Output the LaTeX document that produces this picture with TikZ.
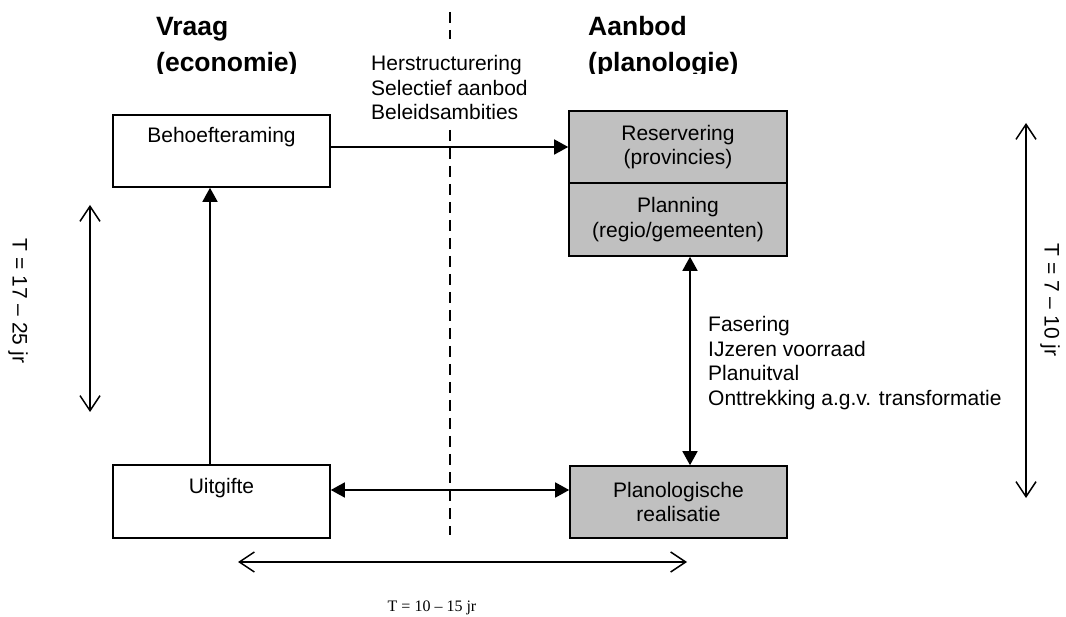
\documentclass[tikz,border=0pt]{standalone}
\usepackage{fontspec}
\setmainfont{Liberation Sans}
\newfontfamily\serifT{Liberation Serif}
\usetikzlibrary{arrows.meta}
\definecolor{boxgray}{HTML}{C0C0C0}
\tikzset{
  txt/.style={font=\fontsize{21}{24.6}\selectfont, inner sep=0pt},
  head/.style={font=\bfseries\fontsize{26.5}{36}\selectfont, inner sep=0pt},
  box/.style={draw, line width=1.6pt, minimum width=217pt, inner sep=0pt, align=center, font=\fontsize{21}{24.6}\selectfont},
  gbox/.style={box, fill=boxgray},
  conn/.style={line width=1.6pt},
  filled/.style={conn, -{Triangle[length=14pt,width=15pt]}},
  filledboth/.style={conn, {Triangle[length=14pt,width=15pt]}-{Triangle[length=14pt,width=15pt]}},
  dimarrow/.style={line width=1.5pt, {Straight Barb[length=15pt,width=20pt]}-{Straight Barb[length=15pt,width=20pt]}},
  divider/.style={line width=1.3pt, dash pattern=on 11pt off 7pt}
}
\begin{document}
\begin{tikzpicture}[x=1pt,y=-1pt]
\useasboundingbox (0,0) rectangle (1066,617);

% headings (clipped at the bottom as in the reference)
\begin{scope}
  \clip (0,0) rectangle (1066,74);
  \node[head, anchor=base west] (vraag) at (156,36) {Vraag};
  \node[head, anchor=base west] (econ) at (156,72) {(economie)};
  \node[head, anchor=base west] (aanbod) at (588,36) {Aanbod};
  \node[head, anchor=base west] (plano) at (588,72) {(planologie)};
\end{scope}

% dashed divider
\coordinate (d1) at (450,12);
\coordinate (d2) at (450,39);
\coordinate (d3) at (450,130);
\coordinate (d4) at (450,535);
\draw[divider] (d1) -- (d2);
\draw[divider] (d3) -- (d4);

% boxes
\node[box, minimum height=72pt,
      label={[txt, anchor=center, yshift=-23pt]north:Behoefteraming}] (beh) at (221.5,151) {};
\node[box, minimum height=73pt,
      label={[txt, anchor=center, yshift=-24pt]north:Uitgifte}] (uit) at (221.5,501.5) {};
\node[gbox, minimum width=218pt, minimum height=72pt] (res) at (678,147) {Reservering\\(provincies)};
\node[gbox, minimum width=218pt, minimum height=73pt] (pl) at (678,219.5) {Planning\\(regio/gemeenten)};
\node[gbox, minimum height=72pt] (pr) at (678.5,502) {Planologische\\realisatie};

% connectors
\draw[filled] (beh.east |- res.west) -- (res.west);
\draw[filled] ([xshift=-11.5pt]uit.north) -- ([xshift=-11.5pt]beh.south);
\draw[filledboth] ([yshift=11.5pt]uit.east) -- ([yshift=12pt]pr.west);
\draw[filledboth] ([xshift=12pt]pl.south) -- ([xshift=11.5pt]pr.north);

% side texts
\node[txt, anchor=west, align=left] (mid) at (371,87.5) {Herstructurering\\Selectief aanbod\\Beleidsambities};
\node[txt, anchor=west, align=left] (fas) at (708,363) {Fasering\\IJzeren voorraad\\Planuitval\\Onttrekking a.g.v. transformatie};

% time spans
\coordinate (la) at (90,205);
\coordinate (lb) at (90,412);
\draw[dimarrow] (la) -- (lb);
\node[txt, rotate=-90] (lt) at (18,301) {T = 17 – 25 jr};

\coordinate (ra) at (1026,123);
\coordinate (rb) at (1026,498);
\draw[dimarrow] (ra) -- (rb);
\node[txt, rotate=-90] (rt) at (1050,300) {T = 7 – 10 jr};

\coordinate (ba) at (238,562);
\coordinate (bb) at (687,562);
\draw[dimarrow] (ba) -- (bb);
\node[font=\serifT\fontsize{16}{19}\selectfont, inner sep=0pt, anchor=base] (bt) at (432,611) {T = 10 – 15 jr};
\end{tikzpicture}
\end{document}
